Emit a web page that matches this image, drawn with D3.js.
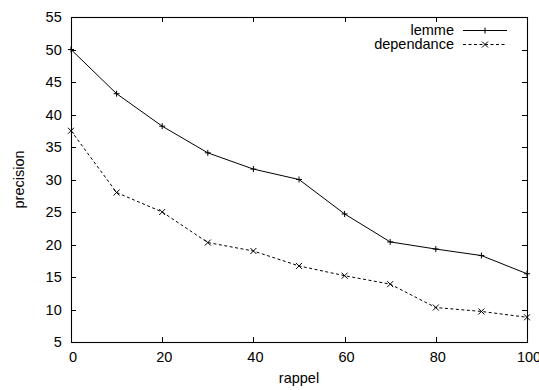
<!DOCTYPE html>
<html>
<head>
<meta charset="utf-8">
<script src="https://cdn.jsdelivr.net/npm/d3@7"></script>
<style>
  html, body { margin: 0; padding: 0; background: #fff; }
  svg { display: block; }
  text { font-family: "Liberation Sans", Arial, Helvetica, sans-serif; font-size: 14.5px; fill: #000; }
</style>
</head>
<body>
<svg id="chart" width="539" height="390"></svg>
<script>
// ---- data ----
const rappel = [0, 10, 20, 30, 40, 50, 60, 70, 80, 90, 100];
const lemme = [50, 43.2, 38.2, 34.1, 31.6, 30.0, 24.7, 20.4, 19.3, 18.3, 15.5];
const dependance = [37.5, 28.0, 25.0, 20.3, 19.0, 16.7, 15.2, 13.9, 10.3, 9.7, 8.8];
const seriesNames = ["lemme", "dependance"];
const xTicks = [0, 20, 40, 60, 80, 100];
const yTicks = [5, 10, 15, 20, 25, 30, 35, 40, 45, 50, 55];
const xLabel = "rappel";
const yLabel = "precision";

// ---- layout ----
const W = 539, H = 390;
const L = 71, T = 17, R = 527, B = 342;

const svg = d3.select("#chart");
const x = d3.scaleLinear().domain([0, 100]).range([L, R]);
const y = d3.scaleLinear().domain([5, 55]).range([B, T]);

// bottom axis with labels
const gxb = svg.append("g").attr("transform", `translate(0,${B})`)
  .call(d3.axisBottom(x).tickValues(xTicks).tickFormat(d3.format("d")).tickSizeInner(-5).tickSizeOuter(0).tickPadding(9.5));
gxb.select(".domain").remove();
gxb.selectAll("text").attr("dx", 1.5);
// top mirrored ticks
const gxt = svg.append("g").attr("transform", `translate(0,${T})`)
  .call(d3.axisTop(x).tickValues(xTicks).tickFormat("").tickSizeInner(-5).tickSizeOuter(0));
gxt.select(".domain").remove();
// left axis with labels
const gyl = svg.append("g").attr("transform", `translate(${L},0)`)
  .call(d3.axisLeft(y).tickValues(yTicks).tickFormat(d3.format("d")).tickSizeInner(-5).tickSizeOuter(0).tickPadding(9.3));
gyl.select(".domain").remove();
// right mirrored ticks
const gyr = svg.append("g").attr("transform", `translate(${R},0)`)
  .call(d3.axisRight(y).tickValues(yTicks).tickFormat("").tickSizeInner(-5).tickSizeOuter(0));
gyr.select(".domain").remove();

svg.selectAll(".tick line").attr("stroke", "#000").attr("shape-rendering", "crispEdges");
svg.selectAll(".tick text").attr("font-family", "Liberation Sans, Arial, sans-serif").attr("font-size", "14.5px").attr("fill", "#000");

// frame
svg.append("rect").attr("x", L + 0.5).attr("y", T + 0.5)
  .attr("width", R - L).attr("height", B - T)
  .attr("fill", "none").attr("stroke", "#000").attr("stroke-width", 1.1);

// axis titles
svg.append("text").attr("x", (L + R) / 2).attr("y", 382.5).attr("text-anchor", "middle").text(xLabel);
svg.append("text").attr("transform", `translate(24,${(T + B) / 2}) rotate(-90)`).attr("text-anchor", "middle").text(yLabel);

// series
const line = d3.line().x((d, i) => x(rappel[i])).y(d => y(d));
const plus = (g, cx, cy, s) => {
  g.append("path").attr("d", `M${cx - s},${cy}H${cx + s}M${cx},${cy - s}V${cy + s}`)
    .attr("stroke", "#000").attr("stroke-width", 1).attr("fill", "none");
};
const cross = (g, cx, cy, s) => {
  g.append("path").attr("d", `M${cx - s},${cy - s}L${cx + s},${cy + s}M${cx - s},${cy + s}L${cx + s},${cy - s}`)
    .attr("stroke", "#000").attr("stroke-width", 1).attr("fill", "none");
};

const series = [
  { name: seriesNames[0], values: lemme, dash: null, marker: plus },
  { name: seriesNames[1], values: dependance, dash: "3,2.5", marker: cross }
];

const gPlot = svg.append("g");
series.forEach(s => {
  gPlot.append("path").datum(s.values).attr("d", line)
    .attr("fill", "none").attr("stroke", "#000").attr("stroke-width", 1)
    .attr("stroke-dasharray", s.dash);
  s.values.forEach((v, i) => s.marker(gPlot, x(rappel[i]), y(v), 3));
});

// legend
const leg = svg.append("g");
series.forEach((s, i) => {
  const ly = 30.5 + i * 14;
  leg.append("text").attr("x", 454).attr("y", ly + 4.8).attr("text-anchor", "end").text(s.name);
  leg.append("line").attr("x1", 463).attr("x2", 507).attr("y1", ly).attr("y2", ly)
    .attr("stroke", "#000").attr("stroke-width", 1).attr("stroke-dasharray", s.dash);
  s.marker(leg, 485, ly, 3);
});
</script>
</body>
</html>
